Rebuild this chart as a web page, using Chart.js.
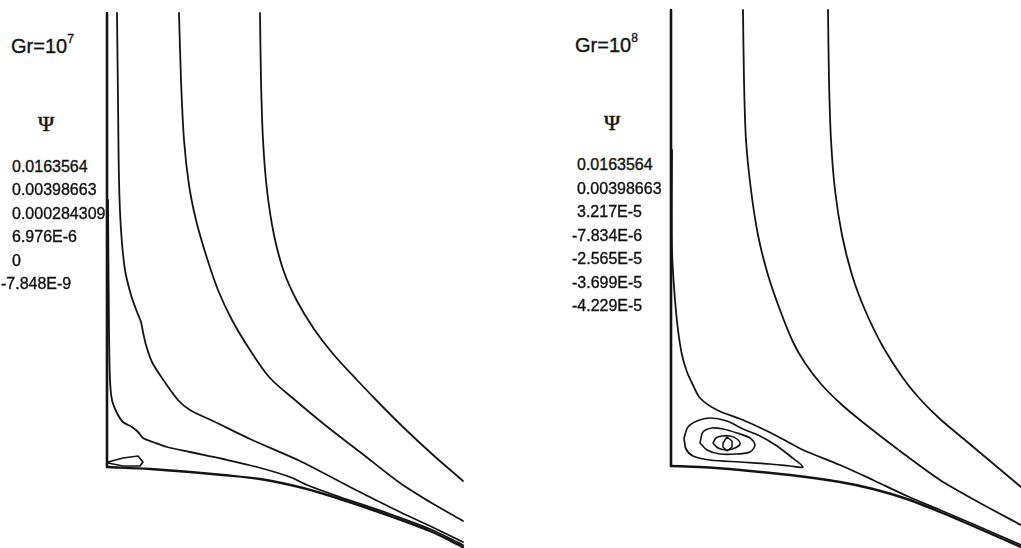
<!DOCTYPE html>
<html>
<head>
<meta charset="utf-8">
<script src="https://cdn.jsdelivr.net/npm/chart.js@4.4.1/dist/chart.umd.min.js"></script>
<style>
  html, body { margin: 0; padding: 0; background: #fff; overflow: hidden; }
  #wrap { position: relative; width: 1021px; height: 548px; }
  canvas { position: absolute; top: 0; }
  .txt { position: absolute; font-family: "Liberation Sans", Arial, sans-serif; color: #111; line-height: 1; white-space: nowrap; -webkit-text-stroke: 0.35px #111; }
  .gr { font-size: 20px; }
  .gr sup { font-size: 12px; position: relative; top: -3px; vertical-align: top; }
  .psi { font-family: "Liberation Serif", "DejaVu Serif", serif; font-size: 22px; -webkit-text-stroke: 0.5px #111; }
  .lvl { font-size: 16px; }
</style>
</head>
<body>
<div id="wrap">
  <canvas id="left" width="376" height="548" style="left:97px"></canvas>
  <canvas id="right" width="360" height="548" style="left:661px"></canvas>
</div>
<script>
// streamfunction levels for each panel
const leftTitle = "Gr=10";
const leftExp = "7";
const rightTitle = "Gr=10";
const rightExp = "8";
const leftLevels = ["0.0163564", "0.00398663", "0.000284309", "6.976E-6", "0", "-7.848E-9"];
const rightLevels = ["0.0163564", "0.00398663", "3.217E-5", "-7.834E-6", "-2.565E-5", "-3.699E-5", "-4.229E-5"];

// Gr=1e7 : walls and streamlines, (x, y) measured from the corner
const leftWall = [[0, 4.54], [0, 0]];
const leftFloor = [[0, 0], [0.43, -0.02], [0.83, -0.05], [1.16, -0.08], [1.53, -0.12], [1.96, -0.21],
  [2.33, -0.32], [2.83, -0.49], [3.23, -0.64], [3.56, -0.80]];
const leftC0 = [[0.01, 2.67], [0.02, 1.37], [0.03, 0.87], [0.05, 0.67], [0.10, 0.54], [0.16, 0.45],
  [0.25, 0.40], [0.31, 0.35], [0.36, 0.29], [0.46, 0.25], [0.60, 0.20], [0.83, 0.15], [1.16, 0.08],
  [1.50, 0.00], [1.83, -0.10], [2.00, -0.18], [2.33, -0.30], [2.83, -0.47], [3.23, -0.62], [3.56, -0.78]];
const leftC1 = [[0.10, 4.54], [0.11, 3.67], [0.12, 2.87], [0.14, 2.37], [0.18, 1.97], [0.24, 1.72],
  [0.30, 1.55], [0.34, 1.45], [0.36, 1.35], [0.39, 1.22], [0.45, 1.05], [0.55, 0.89], [0.71, 0.67],
  [0.83, 0.57], [1.06, 0.46], [1.43, 0.28], [1.93, 0.06], [2.43, -0.20], [2.93, -0.45], [3.23, -0.59], [3.56, -0.75]];
const leftC2 = [[0.72, 4.54], [0.74, 3.87], [0.77, 3.27], [0.82, 2.82], [0.89, 2.47], [0.99, 2.12],
  [1.11, 1.77], [1.25, 1.47], [1.43, 1.17], [1.63, 0.89], [1.88, 0.67], [2.18, 0.42], [2.53, 0.15],
  [2.93, -0.16], [3.23, -0.35], [3.56, -0.54]];
const leftC3 = [[1.53, 4.54], [1.54, 3.87], [1.56, 3.27], [1.60, 2.77], [1.67, 2.32], [1.77, 1.95],
  [1.90, 1.66], [2.07, 1.38], [2.27, 1.12], [2.50, 0.87], [2.73, 0.63], [2.96, 0.40], [3.25, 0.13], [3.56, -0.14]];
const leftEddy = [[0.01, 0.05], [0.16, 0.09], [0.31, 0.11], [0.36, 0.05], [0.33, 0.01], [0.16, 0.01], [0.01, 0.04], [0.01, 0.05]];

// Gr=1e8
const rightWall = [[0, 4.56], [0, 0]];
const rightFloor = [[0, 0], [0.29, -0.01], [0.69, -0.04], [1.19, -0.09], [1.69, -0.16], [2.02, -0.23],
  [2.36, -0.33], [2.69, -0.46], [3.02, -0.60], [3.50, -0.81]];
const rightD = [[0.01, 3.16], [0.01, 2.16], [0.04, 1.66], [0.07, 1.36], [0.11, 1.11], [0.16, 0.94],
  [0.21, 0.83], [0.29, 0.68], [0.46, 0.56], [0.72, 0.46], [0.96, 0.35], [1.19, 0.23], [1.32, 0.16],
  [1.69, 0.01], [2.02, -0.14], [2.36, -0.30], [2.69, -0.44], [3.02, -0.58], [3.50, -0.79]];
const rightA = [[0.72, 4.56], [0.73, 3.86], [0.75, 3.26], [0.80, 2.76], [0.87, 2.31], [0.97, 1.91],
  [1.09, 1.56], [1.22, 1.24], [1.34, 1.03], [1.50, 0.82], [1.70, 0.62], [1.94, 0.42], [2.29, 0.15],
  [2.69, -0.14], [3.09, -0.37], [3.50, -0.59]];
const rightB = [[1.57, 4.56], [1.58, 3.86], [1.60, 3.26], [1.64, 2.76], [1.71, 2.31], [1.81, 1.91],
  [1.94, 1.56], [2.11, 1.21], [2.32, 0.88], [2.49, 0.67], [2.69, 0.47], [2.94, 0.26], [3.19, 0.05], [3.50, -0.21]];
const vortex1 = [[0.13, 0.28], [0.17, 0.39], [0.26, 0.45], [0.39, 0.48], [0.56, 0.45], [0.72, 0.37],
  [0.89, 0.30], [1.06, 0.20], [1.19, 0.10], [1.32, -0.01], [1.19, 0.00], [0.99, 0.02], [0.69, 0.04],
  [0.39, 0.06], [0.22, 0.10], [0.15, 0.17], [0.13, 0.28]];
const vortex2 = [[0.29, 0.23], [0.32, 0.34], [0.41, 0.38], [0.52, 0.37], [0.66, 0.33], [0.79, 0.28],
  [0.84, 0.21], [0.79, 0.14], [0.66, 0.12], [0.49, 0.12], [0.36, 0.16], [0.29, 0.23]];
const vortex3 = [[0.42, 0.23], [0.45, 0.28], [0.51, 0.30], [0.59, 0.30], [0.66, 0.27], [0.69, 0.22],
  [0.64, 0.18], [0.56, 0.16], [0.47, 0.18], [0.42, 0.23]];
const vortex4 = [[0.52, 0.23], [0.56, 0.29], [0.61, 0.25], [0.61, 0.19], [0.56, 0.15], [0.52, 0.19], [0.52, 0.23]];

const ink = "#141414";

function line(pts, width, tension) {
  return {
    data: pts.map(p => ({ x: p[0], y: p[1] })),
    showLine: true,
    borderColor: ink,
    borderWidth: width,
    pointRadius: 0,
    tension: tension,
    borderCapStyle: "round",
    borderJoinStyle: "round",
    fill: false
  };
}

function makePanel(id, datasets, xr, yr) {
  return new Chart(document.getElementById(id), {
    type: "scatter",
    data: { datasets: datasets },
    options: {
      responsive: false,
      animation: false,
      events: [],
      layout: { padding: 0 },
      plugins: { legend: { display: false }, tooltip: { enabled: false } },
      scales: {
        x: { type: "linear", display: false, min: xr[0], max: xr[1] },
        y: { type: "linear", display: false, min: yr[0], max: yr[1] }
      }
    }
  });
}

makePanel("left", [
  line(leftWall, 2.6, 0),
  line(leftFloor, 2.4, 0.3),
  line(leftC0, 1.8, 0.3),
  line(leftC1, 1.8, 0.3),
  line(leftC2, 1.8, 0.3),
  line(leftC3, 1.8, 0.3),
  line(leftEddy, 1.7, 0)
], [-0.10, 3.66], [-0.81, 4.67]);

makePanel("right", [
  line(rightWall, 2.6, 0),
  line(rightFloor, 2.4, 0.3),
  line(rightD, 1.8, 0.3),
  line(rightA, 1.8, 0.3),
  line(rightB, 1.8, 0.3),
  line(vortex1, 1.7, 0.3),
  line(vortex2, 1.6, 0.3),
  line(vortex3, 1.6, 0.3),
  line(vortex4, 1.5, 0)
], [-0.10, 3.50], [-0.82, 4.66]);

// text blocks: title, psi symbol, level list
const wrap = document.getElementById("wrap");
function addText(cls, html, x, y) {
  const el = document.createElement("div");
  el.className = "txt " + cls;
  el.innerHTML = html;
  el.style.left = x + "px";
  el.style.top = y + "px";
  wrap.appendChild(el);
}

addText("gr", leftTitle + "<sup>" + leftExp + "</sup>", 11, 36);
addText("gr", rightTitle + "<sup>" + rightExp + "</sup>", 575, 35);
addText("psi", "\u03A8", 38, 113);
addText("psi", "\u03A8", 604, 112);

leftLevels.forEach((v, i) => {
  const x = v.startsWith("-") ? 1 : 12;
  addText("lvl", v, x, 159 + i * 23.4);
});
rightLevels.forEach((v, i) => {
  const x = v.startsWith("-") ? 572 : 577;
  addText("lvl", v, x, 157 + i * 23.5);
});
</script>
</body>
</html>
